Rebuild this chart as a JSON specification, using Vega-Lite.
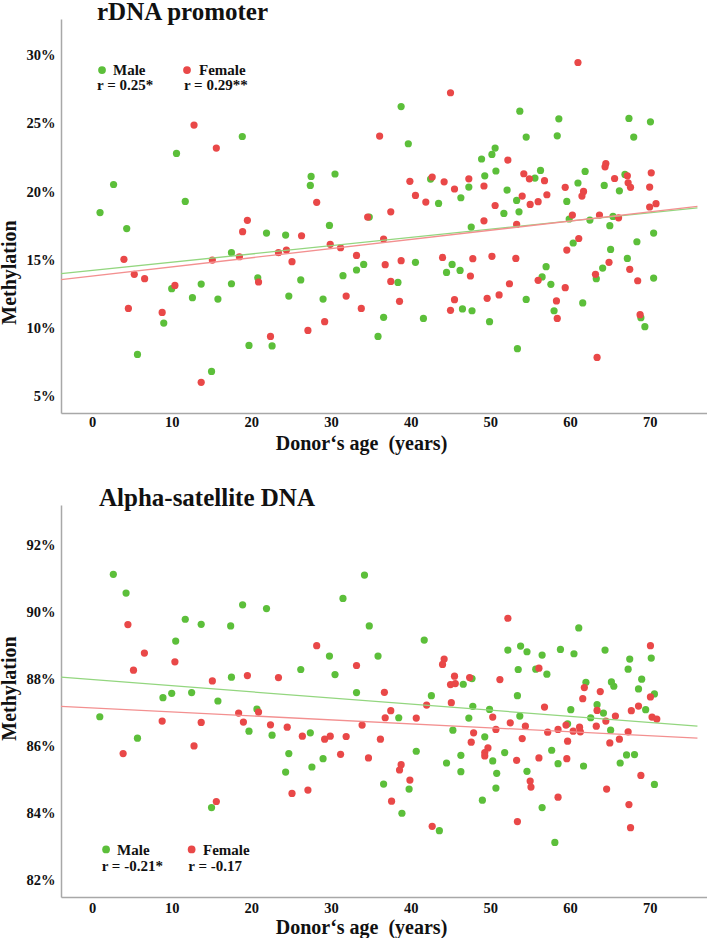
{
  "$schema": "https://vega.github.io/schema/vega-lite/v6.json",
  "padding": {"left": -1, "top": 0, "right": 0, "bottom": 0},
  "spacing": 32,
  "config": {
    "font": "Liberation Serif",
    "view": {"stroke": null},
    "axis": {
      "grid": false, "ticks": false, "domainColor": "#a8a8a8", "domainWidth": 1.5,
      "labelFont": "Liberation Serif", "labelFontSize": 14.5, "labelFontWeight": "bold", "labelColor": "#111",
      "titleFont": "Liberation Serif", "titleFontSize": 20, "titleFontWeight": "bold", "titleColor": "#111"
    },
    "title": {"font": "Liberation Serif", "fontSize": 25, "fontWeight": "bold", "anchor": "start", "color": "#111", "frame": "group"},
    "text": {"font": "Liberation Serif", "fontSize": 15, "fontWeight": "bold", "color": "#111", "align": "left", "baseline": "alphabetic"}
  },
  "datasets": {
    "rdna": [
      {"age":1.0,"meth":18.5,"sex":"Male"},{"age":2.7,"meth":20.56,"sex":"Male"},{"age":4.35,"meth":17.33,"sex":"Male"},{"age":10.6,"meth":22.84,"sex":"Male"},{"age":11.7,"meth":19.32,"sex":"Male"},{"age":18.86,"meth":24.08,"sex":"Male"},{"age":27.5,"meth":21.15,"sex":"Male"},{"age":27.4,"meth":20.49,"sex":"Male"},{"age":30.5,"meth":21.33,"sex":"Male"},{"age":21.9,"meth":17.0,"sex":"Male"},
      {"age":24.3,"meth":16.85,"sex":"Male"},{"age":29.8,"meth":17.56,"sex":"Male"},{"age":5.7,"meth":8.1,"sex":"Male"},{"age":9.0,"meth":10.4,"sex":"Male"},{"age":10.0,"meth":12.92,"sex":"Male"},{"age":12.6,"meth":12.26,"sex":"Male"},{"age":13.7,"meth":13.26,"sex":"Male"},{"age":15.0,"meth":6.85,"sex":"Male"},{"age":15.8,"meth":12.16,"sex":"Male"},{"age":17.5,"meth":15.56,"sex":"Male"},
      {"age":17.5,"meth":13.28,"sex":"Male"},{"age":19.7,"meth":8.76,"sex":"Male"},{"age":20.8,"meth":13.72,"sex":"Male"},{"age":22.6,"meth":8.72,"sex":"Male"},{"age":24.7,"meth":12.38,"sex":"Male"},{"age":26.2,"meth":13.56,"sex":"Male"},{"age":29.0,"meth":12.16,"sex":"Male"},{"age":31.5,"meth":13.87,"sex":"Male"},{"age":33.2,"meth":14.29,"sex":"Male"},{"age":38.8,"meth":26.28,"sex":"Male"},
      {"age":39.7,"meth":23.55,"sex":"Male"},{"age":53.7,"meth":25.94,"sex":"Male"},{"age":58.6,"meth":25.38,"sex":"Male"},{"age":58.4,"meth":24.13,"sex":"Male"},{"age":54.5,"meth":24.04,"sex":"Male"},{"age":67.4,"meth":25.41,"sex":"Male"},{"age":70.1,"meth":25.16,"sex":"Male"},{"age":68.0,"meth":24.04,"sex":"Male"},{"age":50.6,"meth":23.23,"sex":"Male"},{"age":50.2,"meth":22.77,"sex":"Male"},
      {"age":48.9,"meth":22.43,"sex":"Male"},{"age":49.3,"meth":21.2,"sex":"Male"},{"age":50.7,"meth":21.55,"sex":"Male"},{"age":55.6,"meth":21.03,"sex":"Male"},{"age":56.3,"meth":21.59,"sex":"Male"},{"age":42.5,"meth":20.96,"sex":"Male"},{"age":47.3,"meth":20.37,"sex":"Male"},{"age":43.5,"meth":19.17,"sex":"Male"},{"age":46.3,"meth":19.59,"sex":"Male"},{"age":52.1,"meth":20.15,"sex":"Male"},
      {"age":53.3,"meth":19.39,"sex":"Male"},{"age":51.7,"meth":18.44,"sex":"Male"},{"age":53.6,"meth":18.56,"sex":"Male"},{"age":61.0,"meth":20.67,"sex":"Male"},{"age":61.9,"meth":21.52,"sex":"Male"},{"age":59.6,"meth":19.32,"sex":"Male"},{"age":64.3,"meth":20.49,"sex":"Male"},{"age":66.2,"meth":20.1,"sex":"Male"},{"age":66.9,"meth":21.3,"sex":"Male"},{"age":34.8,"meth":18.17,"sex":"Male"},
      {"age":47.6,"meth":17.44,"sex":"Male"},{"age":59.9,"meth":18.03,"sex":"Male"},{"age":62.5,"meth":17.95,"sex":"Male"},{"age":65.4,"meth":18.22,"sex":"Male"},{"age":65.0,"meth":17.54,"sex":"Male"},{"age":70.5,"meth":17.0,"sex":"Male"},{"age":34.1,"meth":14.7,"sex":"Male"},{"age":38.4,"meth":13.38,"sex":"Male"},{"age":36.6,"meth":10.82,"sex":"Male"},{"age":35.9,"meth":9.42,"sex":"Male"},
      {"age":40.6,"meth":14.85,"sex":"Male"},{"age":41.6,"meth":10.74,"sex":"Male"},{"age":45.2,"meth":14.7,"sex":"Male"},{"age":44.5,"meth":14.11,"sex":"Male"},{"age":46.2,"meth":14.26,"sex":"Male"},{"age":46.5,"meth":11.43,"sex":"Male"},{"age":47.7,"meth":11.3,"sex":"Male"},{"age":49.9,"meth":10.5,"sex":"Male"},{"age":53.4,"meth":8.52,"sex":"Male"},{"age":54.5,"meth":12.13,"sex":"Male"},
      {"age":56.5,"meth":13.78,"sex":"Male"},{"age":57.0,"meth":14.53,"sex":"Male"},{"age":57.6,"meth":13.24,"sex":"Male"},{"age":58.0,"meth":11.3,"sex":"Male"},{"age":60.4,"meth":16.27,"sex":"Male"},{"age":61.6,"meth":11.87,"sex":"Male"},{"age":63.3,"meth":13.65,"sex":"Male"},{"age":64.1,"meth":14.43,"sex":"Male"},{"age":65.1,"meth":15.8,"sex":"Male"},{"age":67.2,"meth":15.14,"sex":"Male"},
      {"age":68.4,"meth":16.36,"sex":"Male"},{"age":68.9,"meth":10.79,"sex":"Male"},{"age":69.4,"meth":10.13,"sex":"Male"},{"age":70.5,"meth":13.7,"sex":"Male"},
      {"age":12.8,"meth":24.92,"sex":"Female"},{"age":15.6,"meth":23.23,"sex":"Female"},{"age":28.2,"meth":19.25,"sex":"Female"},{"age":19.5,"meth":17.93,"sex":"Female"},{"age":18.9,"meth":17.1,"sex":"Female"},{"age":26.3,"meth":16.8,"sex":"Female"},{"age":4.0,"meth":15.07,"sex":"Female"},{"age":5.3,"meth":13.97,"sex":"Female"},{"age":6.6,"meth":13.65,"sex":"Female"},{"age":4.56,"meth":11.47,"sex":"Female"},
      {"age":8.8,"meth":11.18,"sex":"Female"},{"age":10.4,"meth":13.16,"sex":"Female"},{"age":13.7,"meth":6.05,"sex":"Female"},{"age":15.1,"meth":15.02,"sex":"Female"},{"age":18.5,"meth":15.26,"sex":"Female"},{"age":20.9,"meth":13.41,"sex":"Female"},{"age":22.4,"meth":9.42,"sex":"Female"},{"age":23.4,"meth":15.56,"sex":"Female"},{"age":24.4,"meth":15.75,"sex":"Female"},{"age":25.1,"meth":14.9,"sex":"Female"},
      {"age":27.1,"meth":9.86,"sex":"Female"},{"age":29.2,"meth":10.5,"sex":"Female"},{"age":29.9,"meth":16.17,"sex":"Female"},{"age":31.2,"meth":15.92,"sex":"Female"},{"age":31.9,"meth":12.38,"sex":"Female"},{"age":33.2,"meth":15.36,"sex":"Female"},{"age":36.1,"meth":24.11,"sex":"Female"},{"age":45.0,"meth":27.29,"sex":"Female"},{"age":61.0,"meth":29.51,"sex":"Female"},{"age":52.2,"meth":22.35,"sex":"Female"},
      {"age":54.2,"meth":21.35,"sex":"Female"},{"age":54.9,"meth":20.98,"sex":"Female"},{"age":56.8,"meth":20.84,"sex":"Female"},{"age":39.9,"meth":20.79,"sex":"Female"},{"age":42.7,"meth":21.11,"sex":"Female"},{"age":44.2,"meth":20.76,"sex":"Female"},{"age":45.5,"meth":20.23,"sex":"Female"},{"age":47.3,"meth":20.98,"sex":"Female"},{"age":49.2,"meth":20.45,"sex":"Female"},{"age":40.6,"meth":19.76,"sex":"Female"},
      {"age":41.9,"meth":19.27,"sex":"Female"},{"age":54.0,"meth":19.71,"sex":"Female"},{"age":55.0,"meth":19.1,"sex":"Female"},{"age":56.0,"meth":19.3,"sex":"Female"},{"age":57.1,"meth":19.81,"sex":"Female"},{"age":50.6,"meth":19.02,"sex":"Female"},{"age":59.4,"meth":20.35,"sex":"Female"},{"age":61.7,"meth":20.05,"sex":"Female"},{"age":61.5,"meth":19.71,"sex":"Female"},{"age":64.5,"meth":22.1,"sex":"Female"},
      {"age":64.4,"meth":21.86,"sex":"Female"},{"age":65.6,"meth":21.0,"sex":"Female"},{"age":67.2,"meth":21.2,"sex":"Female"},{"age":67.3,"meth":20.69,"sex":"Female"},{"age":67.6,"meth":20.35,"sex":"Female"},{"age":70.2,"meth":21.42,"sex":"Female"},{"age":70.0,"meth":20.37,"sex":"Female"},{"age":70.0,"meth":18.91,"sex":"Female"},{"age":70.8,"meth":19.15,"sex":"Female"},{"age":34.6,"meth":18.17,"sex":"Female"},
      {"age":37.5,"meth":18.56,"sex":"Female"},{"age":49.2,"meth":17.9,"sex":"Female"},{"age":53.3,"meth":17.63,"sex":"Female"},{"age":60.3,"meth":18.32,"sex":"Female"},{"age":63.7,"meth":18.32,"sex":"Female"},{"age":66.1,"meth":18.12,"sex":"Female"},{"age":36.6,"meth":16.56,"sex":"Female"},{"age":61.1,"meth":16.6,"sex":"Female"},{"age":33.8,"meth":11.47,"sex":"Female"},{"age":36.8,"meth":14.68,"sex":"Female"},
      {"age":38.8,"meth":14.97,"sex":"Female"},{"age":37.5,"meth":13.45,"sex":"Female"},{"age":38.6,"meth":11.99,"sex":"Female"},{"age":44.0,"meth":15.21,"sex":"Female"},{"age":47.5,"meth":13.85,"sex":"Female"},{"age":47.8,"meth":15.12,"sex":"Female"},{"age":45.5,"meth":12.11,"sex":"Female"},{"age":45.0,"meth":11.33,"sex":"Female"},{"age":50.2,"meth":15.29,"sex":"Female"},{"age":49.6,"meth":12.21,"sex":"Female"},
      {"age":51.1,"meth":12.46,"sex":"Female"},{"age":52.4,"meth":13.28,"sex":"Female"},{"age":53.2,"meth":15.14,"sex":"Female"},{"age":56.0,"meth":13.53,"sex":"Female"},{"age":58.3,"meth":12.02,"sex":"Female"},{"age":58.4,"meth":10.74,"sex":"Female"},{"age":59.4,"meth":12.99,"sex":"Female"},{"age":59.6,"meth":15.75,"sex":"Female"},{"age":63.2,"meth":13.97,"sex":"Female"},{"age":63.4,"meth":7.88,"sex":"Female"},
      {"age":64.9,"meth":14.85,"sex":"Female"},{"age":67.5,"meth":14.34,"sex":"Female"},{"age":68.5,"meth":13.5,"sex":"Female"},{"age":68.8,"meth":11.01,"sex":"Female"}
    ],
    "rdnaFit": [
      {"age":-3.9,"meth":14.02,"sex":"Male"},{"age":76,"meth":18.85,"sex":"Male"},
      {"age":-3.9,"meth":13.58,"sex":"Female"},{"age":76,"meth":18.95,"sex":"Female"}
    ],
    "alpha": [
      {"age":2.67,"meth":91.13,"sex":"Male"},{"age":4.27,"meth":90.57,"sex":"Male"},{"age":10.5,"meth":89.14,"sex":"Male"},{"age":11.7,"meth":89.79,"sex":"Male"},{"age":13.7,"meth":89.64,"sex":"Male"},{"age":17.4,"meth":89.59,"sex":"Male"},{"age":18.9,"meth":90.22,"sex":"Male"},{"age":21.9,"meth":90.11,"sex":"Male"},{"age":31.5,"meth":90.41,"sex":"Male"},{"age":29.8,"meth":88.69,"sex":"Male"},
      {"age":30.5,"meth":88.14,"sex":"Male"},{"age":33.2,"meth":87.6,"sex":"Male"},{"age":26.2,"meth":88.29,"sex":"Male"},{"age":17.5,"meth":88.06,"sex":"Male"},{"age":12.5,"meth":87.6,"sex":"Male"},{"age":10.0,"meth":87.58,"sex":"Male"},{"age":8.9,"meth":87.45,"sex":"Male"},{"age":15.8,"meth":87.35,"sex":"Male"},{"age":20.7,"meth":87.11,"sex":"Male"},{"age":0.97,"meth":86.88,"sex":"Male"},
      {"age":5.7,"meth":86.24,"sex":"Male"},{"age":15.0,"meth":84.17,"sex":"Male"},{"age":19.7,"meth":86.45,"sex":"Male"},{"age":22.6,"meth":86.33,"sex":"Male"},{"age":24.7,"meth":85.78,"sex":"Male"},{"age":24.3,"meth":85.23,"sex":"Male"},{"age":27.4,"meth":86.4,"sex":"Male"},{"age":27.6,"meth":85.38,"sex":"Male"},{"age":29.0,"meth":85.63,"sex":"Male"},{"age":34.2,"meth":91.11,"sex":"Male"},
      {"age":34.8,"meth":89.59,"sex":"Male"},{"age":41.7,"meth":89.17,"sex":"Male"},{"age":35.9,"meth":88.69,"sex":"Male"},{"age":61.1,"meth":89.53,"sex":"Male"},{"age":70.2,"meth":88.63,"sex":"Male"},{"age":67.5,"meth":88.6,"sex":"Male"},{"age":67.3,"meth":88.3,"sex":"Male"},{"age":64.4,"meth":88.87,"sex":"Male"},{"age":60.5,"meth":88.76,"sex":"Male"},{"age":58.8,"meth":88.89,"sex":"Male"},
      {"age":56.5,"meth":88.72,"sex":"Male"},{"age":54.6,"meth":88.82,"sex":"Male"},{"age":53.8,"meth":88.99,"sex":"Male"},{"age":52.2,"meth":88.87,"sex":"Male"},{"age":53.5,"meth":88.29,"sex":"Male"},{"age":55.7,"meth":88.3,"sex":"Male"},{"age":57.1,"meth":88.15,"sex":"Male"},{"age":47.7,"meth":88.02,"sex":"Male"},{"age":46.6,"meth":87.85,"sex":"Male"},{"age":53.4,"meth":87.51,"sex":"Male"},
      {"age":62.0,"meth":87.91,"sex":"Male"},{"age":65.2,"meth":87.92,"sex":"Male"},{"age":65.5,"meth":87.79,"sex":"Male"},{"age":69.0,"meth":88.0,"sex":"Male"},{"age":68.6,"meth":87.71,"sex":"Male"},{"age":70.6,"meth":87.56,"sex":"Male"},{"age":42.6,"meth":87.51,"sex":"Male"},{"age":47.8,"meth":87.19,"sex":"Male"},{"age":49.9,"meth":87.1,"sex":"Male"},{"age":60.1,"meth":87.09,"sex":"Male"},
      {"age":63.4,"meth":87.24,"sex":"Male"},{"age":64.2,"meth":86.99,"sex":"Male"},{"age":69.5,"meth":87.09,"sex":"Male"},{"age":38.5,"meth":86.85,"sex":"Male"},{"age":47.3,"meth":86.84,"sex":"Male"},{"age":53.7,"meth":86.9,"sex":"Male"},{"age":62.6,"meth":86.85,"sex":"Male"},{"age":36.6,"meth":84.87,"sex":"Male"},{"age":38.9,"meth":84.0,"sex":"Male"},{"age":39.8,"meth":84.72,"sex":"Male"},
      {"age":40.7,"meth":85.85,"sex":"Male"},{"age":43.6,"meth":83.48,"sex":"Male"},{"age":45.3,"meth":86.48,"sex":"Male"},{"age":44.5,"meth":85.5,"sex":"Male"},{"age":46.3,"meth":85.73,"sex":"Male"},{"age":46.3,"meth":85.24,"sex":"Male"},{"age":49.3,"meth":86.28,"sex":"Male"},{"age":50.3,"meth":85.56,"sex":"Male"},{"age":50.8,"meth":85.19,"sex":"Male"},{"age":50.7,"meth":84.75,"sex":"Male"},
      {"age":49.0,"meth":84.39,"sex":"Male"},{"age":51.8,"meth":85.81,"sex":"Male"},{"age":54.6,"meth":85.25,"sex":"Male"},{"age":56.5,"meth":84.17,"sex":"Male"},{"age":58.1,"meth":83.13,"sex":"Male"},{"age":57.7,"meth":85.88,"sex":"Male"},{"age":58.5,"meth":85.48,"sex":"Male"},{"age":59.7,"meth":86.67,"sex":"Male"},{"age":61.7,"meth":85.41,"sex":"Male"},{"age":65.1,"meth":86.48,"sex":"Male"},
      {"age":66.3,"meth":85.5,"sex":"Male"},{"age":67.1,"meth":85.74,"sex":"Male"},{"age":68.1,"meth":85.75,"sex":"Male"},{"age":70.6,"meth":84.86,"sex":"Male"},
      {"age":4.5,"meth":89.63,"sex":"Female"},{"age":6.57,"meth":88.78,"sex":"Female"},{"age":5.2,"meth":88.27,"sex":"Female"},{"age":10.4,"meth":88.52,"sex":"Female"},{"age":28.2,"meth":89.0,"sex":"Female"},{"age":33.2,"meth":88.41,"sex":"Female"},{"age":23.4,"meth":88.05,"sex":"Female"},{"age":19.5,"meth":88.11,"sex":"Female"},{"age":15.1,"meth":87.95,"sex":"Female"},{"age":18.4,"meth":86.99,"sex":"Female"},
      {"age":20.9,"meth":87.02,"sex":"Female"},{"age":8.8,"meth":86.75,"sex":"Female"},{"age":13.7,"meth":86.71,"sex":"Female"},{"age":19.0,"meth":86.72,"sex":"Female"},{"age":3.9,"meth":85.78,"sex":"Female"},{"age":12.8,"meth":86.01,"sex":"Female"},{"age":15.6,"meth":84.35,"sex":"Female"},{"age":22.4,"meth":86.64,"sex":"Female"},{"age":24.5,"meth":86.57,"sex":"Female"},{"age":25.1,"meth":84.59,"sex":"Female"},
      {"age":26.4,"meth":86.3,"sex":"Female"},{"age":27.1,"meth":84.69,"sex":"Female"},{"age":29.2,"meth":86.21,"sex":"Female"},{"age":29.9,"meth":86.3,"sex":"Female"},{"age":31.2,"meth":85.76,"sex":"Female"},{"age":31.9,"meth":86.29,"sex":"Female"},{"age":36.7,"meth":87.61,"sex":"Female"},{"age":52.2,"meth":89.82,"sex":"Female"},{"age":70.1,"meth":89.0,"sex":"Female"},{"age":56.1,"meth":88.33,"sex":"Female"},
      {"age":44.2,"meth":88.6,"sex":"Female"},{"age":44.0,"meth":88.44,"sex":"Female"},{"age":45.5,"meth":88.09,"sex":"Female"},{"age":47.4,"meth":88.05,"sex":"Female"},{"age":45.0,"meth":87.84,"sex":"Female"},{"age":45.6,"meth":87.87,"sex":"Female"},{"age":51.2,"meth":87.99,"sex":"Female"},{"age":61.8,"meth":87.75,"sex":"Female"},{"age":61.6,"meth":87.42,"sex":"Female"},{"age":63.8,"meth":87.63,"sex":"Female"},
      {"age":70.1,"meth":87.47,"sex":"Female"},{"age":42.0,"meth":87.23,"sex":"Female"},{"age":45.1,"meth":87.3,"sex":"Female"},{"age":56.8,"meth":87.17,"sex":"Female"},{"age":63.4,"meth":87.07,"sex":"Female"},{"age":65.7,"meth":86.9,"sex":"Female"},{"age":67.7,"meth":87.06,"sex":"Female"},{"age":68.6,"meth":87.2,"sex":"Female"},{"age":37.5,"meth":87.06,"sex":"Female"},{"age":36.8,"meth":86.85,"sex":"Female"},
      {"age":40.7,"meth":86.84,"sex":"Female"},{"age":50.3,"meth":86.87,"sex":"Female"},{"age":70.3,"meth":86.87,"sex":"Female"},{"age":70.9,"meth":86.81,"sex":"Female"},{"age":33.9,"meth":86.63,"sex":"Female"},{"age":34.7,"meth":85.65,"sex":"Female"},{"age":36.2,"meth":86.21,"sex":"Female"},{"age":37.6,"meth":84.36,"sex":"Female"},{"age":38.8,"meth":85.45,"sex":"Female"},{"age":38.6,"meth":85.29,"sex":"Female"},
      {"age":39.9,"meth":84.99,"sex":"Female"},{"age":42.7,"meth":83.61,"sex":"Female"},{"age":47.9,"meth":86.4,"sex":"Female"},{"age":47.6,"meth":86.12,"sex":"Female"},{"age":49.7,"meth":85.95,"sex":"Female"},{"age":49.3,"meth":85.81,"sex":"Female"},{"age":49.3,"meth":85.71,"sex":"Female"},{"age":50.7,"meth":86.5,"sex":"Female"},{"age":52.5,"meth":86.7,"sex":"Female"},{"age":54.4,"meth":86.6,"sex":"Female"},
      {"age":54.0,"meth":86.23,"sex":"Female"},{"age":53.3,"meth":85.58,"sex":"Female"},{"age":55.0,"meth":84.96,"sex":"Female"},{"age":55.1,"meth":84.78,"sex":"Female"},{"age":53.4,"meth":83.75,"sex":"Female"},{"age":56.1,"meth":85.65,"sex":"Female"},{"age":58.5,"meth":84.48,"sex":"Female"},{"age":57.2,"meth":86.42,"sex":"Female"},{"age":58.5,"meth":86.5,"sex":"Female"},{"age":59.5,"meth":86.63,"sex":"Female"},
      {"age":60.4,"meth":86.45,"sex":"Female"},{"age":61.2,"meth":86.57,"sex":"Female"},{"age":61.3,"meth":86.43,"sex":"Female"},{"age":59.7,"meth":86.15,"sex":"Female"},{"age":59.6,"meth":85.63,"sex":"Female"},{"age":63.3,"meth":86.6,"sex":"Female"},{"age":64.5,"meth":86.75,"sex":"Female"},{"age":65.0,"meth":86.1,"sex":"Female"},{"age":64.6,"meth":84.72,"sex":"Female"},{"age":66.2,"meth":86.21,"sex":"Female"},
      {"age":67.3,"meth":86.43,"sex":"Female"},{"age":68.9,"meth":85.13,"sex":"Female"},{"age":67.4,"meth":84.26,"sex":"Female"},{"age":67.6,"meth":83.57,"sex":"Female"}
    ],
    "alphaFit": [
      {"age":-3.9,"meth":88.06,"sex":"Male"},{"age":76,"meth":86.6,"sex":"Male"},
      {"age":-3.9,"meth":87.19,"sex":"Female"},{"age":76,"meth":86.24,"sex":"Female"}
    ],
    "one": [{"k": 1}]
  },
  "vconcat": [
    {
      "width": 646, "height": 394,
      "title": {"text": "rDNA promoter", "offset": -26, "baseline": "alphabetic", "dx": 36},
      "layer": [
        {
          "data": {"name": "rdna"},
          "mark": {"type": "circle", "size": 52, "opacity": 1},
          "encoding": {
            "x": {"field": "age", "type": "quantitative", "scale": {"domain": [-3.9, 77.2], "nice": false, "zero": false},
                  "axis": {"values": [0,10,20,30,40,50,60,70], "title": "Donor‘s age \u00a0(years)", "labelPadding": 2, "titlePadding": 5, "titleX": 300}},
            "y": {"field": "meth", "type": "quantitative", "scale": {"domain": [3.8, 32.7], "nice": false, "zero": false},
                  "axis": {"values": [5,10,15,20,25,30], "labelExpr": "datum.value + '%'", "title": "Methylation", "labelPadding": 6, "titleX": -52, "titleY": 253, "titleBaseline": "middle"}},
            "color": {"field": "sex", "type": "nominal", "scale": {"domain": ["Male","Female"], "range": ["#5cbf3a","#e94848"]}, "legend": null}
          }
        },
        {
          "data": {"name": "rdnaFit"},
          "mark": {"type": "line", "strokeWidth": 1.3},
          "encoding": {
            "x": {"field": "age", "type": "quantitative"},
            "y": {"field": "meth", "type": "quantitative"},
            "color": {"field": "sex", "type": "nominal", "scale": {"domain": ["Male","Female"], "range": ["#93d67f","#f39090"]}, "legend": null}
          }
        },
        {"data": {"name": "one"}, "mark": {"type": "circle", "size": 60, "opacity": 1, "color": "#5cbf3a"}, "encoding": {"x": {"datum": 1.25, "type": "quantitative"}, "y": {"datum": 28.95, "type": "quantitative"}}},
        {"data": {"name": "one"}, "mark": {"type": "circle", "size": 60, "opacity": 1, "color": "#e94848"}, "encoding": {"x": {"datum": 11.92, "type": "quantitative"}, "y": {"datum": 28.95, "type": "quantitative"}}},
        {"data": {"name": "one"}, "mark": {"type": "text", "text": "Male"}, "encoding": {"x": {"datum": 2.63, "type": "quantitative"}, "y": {"datum": 28.58, "type": "quantitative"}}},
        {"data": {"name": "one"}, "mark": {"type": "text", "text": "Female"}, "encoding": {"x": {"datum": 13.43, "type": "quantitative"}, "y": {"datum": 28.58, "type": "quantitative"}}},
        {"data": {"name": "one"}, "mark": {"type": "text", "text": "r = 0.25*"}, "encoding": {"x": {"datum": 0.63, "type": "quantitative"}, "y": {"datum": 27.49, "type": "quantitative"}}},
        {"data": {"name": "one"}, "mark": {"type": "text", "text": "r = 0.29**"}, "encoding": {"x": {"datum": 11.54, "type": "quantitative"}, "y": {"datum": 27.49, "type": "quantitative"}}}
      ],
      "resolve": {"scale": {"color": "independent"}}
    },
    {
      "width": 646, "height": 392,
      "title": {"text": "Alpha-satellite DNA", "offset": -26, "baseline": "alphabetic", "dx": 38},
      "layer": [
        {
          "data": {"name": "alpha"},
          "mark": {"type": "circle", "size": 52, "opacity": 1},
          "encoding": {
            "x": {"field": "age", "type": "quantitative", "scale": {"domain": [-3.9, 77.2], "nice": false, "zero": false},
                  "axis": {"values": [0,10,20,30,40,50,60,70], "title": "Donor‘s age \u00a0(years)", "labelPadding": 4, "titlePadding": 3, "titleX": 300}},
            "y": {"field": "meth", "type": "quantitative", "scale": {"domain": [81.5, 93.2], "nice": false, "zero": false},
                  "axis": {"values": [82,84,86,88,90,92], "labelExpr": "datum.value + '%'", "title": "Methylation", "labelPadding": 6, "titleX": -52, "titleY": 183, "titleBaseline": "middle"}},
            "color": {"field": "sex", "type": "nominal", "scale": {"domain": ["Male","Female"], "range": ["#5cbf3a","#e94848"]}, "legend": null}
          }
        },
        {
          "data": {"name": "alphaFit"},
          "mark": {"type": "line", "strokeWidth": 1.3},
          "encoding": {
            "x": {"field": "age", "type": "quantitative"},
            "y": {"field": "meth", "type": "quantitative"},
            "color": {"field": "sex", "type": "nominal", "scale": {"domain": ["Male","Female"], "range": ["#93d67f","#f39090"]}, "legend": null}
          }
        },
        {"data": {"name": "one"}, "mark": {"type": "circle", "size": 60, "opacity": 1, "color": "#5cbf3a"}, "encoding": {"x": {"datum": 1.76, "type": "quantitative"}, "y": {"datum": 82.92, "type": "quantitative"}}},
        {"data": {"name": "one"}, "mark": {"type": "circle", "size": 60, "opacity": 1, "color": "#e94848"}, "encoding": {"x": {"datum": 12.5, "type": "quantitative"}, "y": {"datum": 82.92, "type": "quantitative"}}},
        {"data": {"name": "one"}, "mark": {"type": "text", "text": "Male"}, "encoding": {"x": {"datum": 3.14, "type": "quantitative"}, "y": {"datum": 82.74, "type": "quantitative"}}},
        {"data": {"name": "one"}, "mark": {"type": "text", "text": "Female"}, "encoding": {"x": {"datum": 13.93, "type": "quantitative"}, "y": {"datum": 82.74, "type": "quantitative"}}},
        {"data": {"name": "one"}, "mark": {"type": "text", "text": "r = -0.21*"}, "encoding": {"x": {"datum": 1.21, "type": "quantitative"}, "y": {"datum": 82.28, "type": "quantitative"}}},
        {"data": {"name": "one"}, "mark": {"type": "text", "text": "r = -0.17"}, "encoding": {"x": {"datum": 12.08, "type": "quantitative"}, "y": {"datum": 82.28, "type": "quantitative"}}}
      ],
      "resolve": {"scale": {"color": "independent"}}
    }
  ]
}
